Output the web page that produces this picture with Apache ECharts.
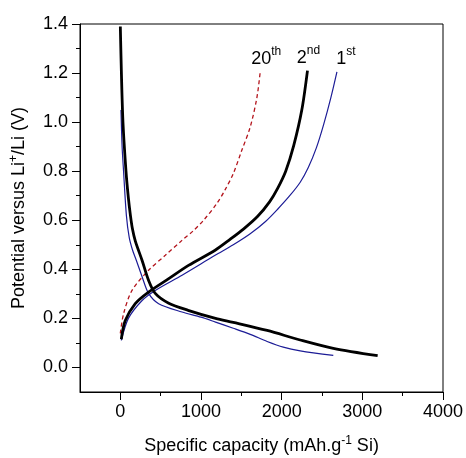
<!DOCTYPE html>
<html><head><meta charset="utf-8">
<script src="https://cdn.jsdelivr.net/npm/echarts@6/dist/echarts.min.js"></script>
<style>html,body{margin:0;padding:0;background:#fff}#c{width:466px;height:458px}</style>
</head><body><div id="c"></div>
<script>
// tick values
const xTicks = [0, 1000, 2000, 3000, 4000];
const xMinorTicks = [500, 1500, 2500, 3500];
const yTicks = [0, 0.2, 0.4, 0.6, 0.8, 1.0, 1.2, 1.4];
const yMinorTicks = [0.1, 0.3, 0.5, 0.7, 0.9, 1.1, 1.3];

// 1st cycle (blue)
const c1DisCap = [8, 22, 40, 75, 110, 150, 200, 275, 350, 475, 765, 1000, 1180, 1400, 1610, 1820, 2020, 2230, 2640];
const c1DisV   = [1.05, 0.90, 0.80, 0.62, 0.53, 0.48, 0.435, 0.365, 0.302, 0.26, 0.226, 0.205, 0.185, 0.160, 0.135, 0.106, 0.083, 0.068, 0.049];
const c1ChCap  = [12, 100, 270, 433, 765, 1175, 1400, 1610, 1800, 1950, 2100, 2230, 2330, 2430, 2520, 2610, 2685];
const c1ChV    = [0.11, 0.20, 0.273, 0.314, 0.376, 0.457, 0.50, 0.545, 0.595, 0.645, 0.70, 0.755, 0.815, 0.895, 0.99, 1.10, 1.205];

// 2nd cycle (black)
const c2DisCap = [0, 30, 70, 100, 125, 150, 186, 269, 350, 433, 600, 840, 1180, 1400, 1820, 2230, 2640, 3190];
const c2DisV   = [1.39, 1.02, 0.80, 0.69, 0.62, 0.565, 0.515, 0.437, 0.355, 0.302, 0.262, 0.233, 0.200, 0.184, 0.151, 0.112, 0.078, 0.048];
const c2ChCap  = [12, 60, 185, 350, 600, 845, 1175, 1360, 1530, 1700, 1850, 1950, 2050, 2150, 2250, 2320];
const c2ChV    = [0.115, 0.19, 0.26, 0.307, 0.362, 0.416, 0.478, 0.522, 0.565, 0.615, 0.675, 0.73, 0.80, 0.905, 1.05, 1.21];

// 20th cycle (red dashed)
const c20ChCap = [0, 40, 145, 350, 557, 764, 900, 1032, 1200, 1300, 1400, 1500, 1610, 1693, 1734];
const c20ChV   = [0.139, 0.219, 0.314, 0.396, 0.457, 0.518, 0.556, 0.600, 0.67, 0.725, 0.79, 0.88, 0.98, 1.10, 1.205];

const zip = (a, b) => a.map((v, i) => [v, b[i]]);
const FONT = 'Liberation Sans';
const BLUE = '#1c1c96', RED = '#b3131b', BLACK = '#000';

const supRich = {
  n: { fontSize: 18, fontFamily: FONT, color: '#000', lineHeight: 22, verticalAlign: 'bottom' },
  s: { fontSize: 12, fontFamily: FONT, color: '#000', lineHeight: 22, verticalAlign: 'top' }
};
function cycleLabel(num, sup, dx) {
  return {
    symbol: 'circle', symbolSize: 0, silent: true,
    itemStyle: { color: 'transparent' },
    data: [{ type: 'max', valueDim: 'y' }],
    label: {
      show: true, position: 'top', distance: 4, offset: [dx, 0],
      formatter: '{n|' + num + '}{s|' + sup + '}', rich: supRich
    }
  };
}
function line(data, color, width, dash, mp) {
  const s = {
    type: 'line', data: data, showSymbol: false, symbol: 'none', smooth: 0.3,
    lineStyle: { color: color, width: width, type: dash || 'solid' },
    itemStyle: { color: color }, silent: true, z: width > 2 ? 3 : 2
  };
  if (mp) s.markPoint = mp;
  return s;
}

const chart = echarts.init(document.getElementById('c'), null, { renderer: 'canvas' });
chart.setOption({
  animation: false,
  backgroundColor: '#fff',
  grid: { left: 80, right: 23, top: 24, bottom: 66, show: true, borderColor: '#000', borderWidth: 1,
    backgroundColor: 'transparent', containLabel: false, outerBoundsMode: 'none' },
  xAxis: [{
    type: 'value', min: -500, max: 4000, position: 'bottom',
    name: 'Specific capacity (mAh.g{s|-1} Si)', nameLocation: 'middle', nameGap: 43,
    nameTextStyle: { fontSize: 18, fontFamily: FONT, color: '#000', lineHeight: 22,
      rich: { s: { fontSize: 12, fontFamily: FONT, color: '#000', verticalAlign: 'top', lineHeight: 22 } } },
    axisLine: { show: true, onZero: false, lineStyle: { color: '#000', width: 1 } },
    axisTick: { show: true, inside: false, length: 8, customValues: xTicks, lineStyle: { color: '#000' } },
    axisLabel: { customValues: xTicks, fontSize: 18, fontFamily: FONT, color: '#000', margin: 11,
      formatter: v => String(v) },
    splitLine: { show: false }
  }, {
    type: 'value', min: -500, max: 4000, position: 'bottom', offset: 0,
    axisLine: { show: false, onZero: false },
    axisTick: { show: true, inside: false, length: 4, customValues: xMinorTicks, lineStyle: { color: '#000' } },
    axisLabel: { show: false, customValues: xMinorTicks },
    splitLine: { show: false }
  }],
  yAxis: [{
    type: 'value', min: -0.1, max: 1.4, position: 'left',
    name: 'Potential versus Li{s|+}/Li (V)', nameLocation: 'middle', nameGap: 50, nameRotate: 90,
    nameTextStyle: { fontSize: 18, fontFamily: FONT, color: '#000', lineHeight: 22,
      rich: { s: { fontSize: 12, fontFamily: FONT, color: '#000', verticalAlign: 'top', lineHeight: 22 } } },
    axisLine: { show: true, onZero: false, lineStyle: { color: '#000', width: 1 } },
    axisTick: { show: true, inside: false, length: 8, customValues: yTicks, lineStyle: { color: '#000' } },
    axisLabel: { customValues: yTicks, fontSize: 18, fontFamily: FONT, color: '#000', margin: 12,
      formatter: v => v.toFixed(1) },
    splitLine: { show: false }
  }, {
    type: 'value', min: -0.1, max: 1.4, position: 'left', offset: 0,
    axisLine: { show: false, onZero: false },
    axisTick: { show: true, inside: false, length: 4, customValues: yMinorTicks, lineStyle: { color: '#000' } },
    axisLabel: { show: false, customValues: yMinorTicks },
    splitLine: { show: false }
  }],
  series: [
    line(zip(c1DisCap, c1DisV), BLUE, 1.2),
    line(zip(c1ChCap, c1ChV), BLUE, 1.2, null, cycleLabel('1', 'st', 9)),
    line(zip(c20ChCap, c20ChV), RED, 1.3, [4, 3], cycleLabel('20', 'th', 6)),
    line(zip(c2DisCap, c2DisV), BLACK, 2.8),
    line(zip(c2ChCap, c2ChV), BLACK, 2.8, null, cycleLabel('2', 'nd', 1))
  ]
});
</script>
</body></html>
